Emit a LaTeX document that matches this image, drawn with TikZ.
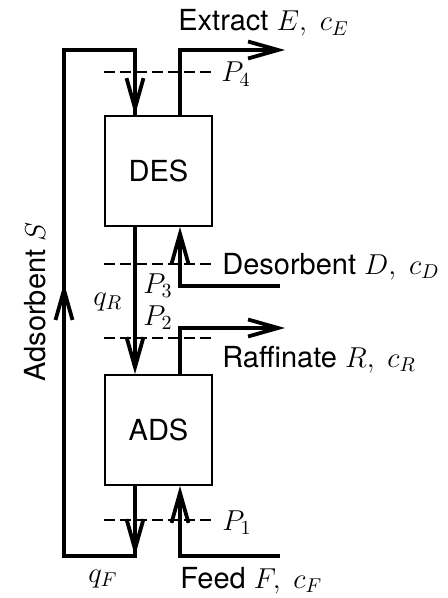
\documentclass[tikz,border=0pt]{standalone}
\usepackage{fontspec}
\setmainfont{TeX Gyre Heros}
\usepackage{tikz}
\usetikzlibrary{arrows.meta,positioning}
\tikzset{
  unitbox/.style={
    draw,
    line width=0.9pt,
    minimum width=53.5pt,
    minimum height=55pt,
    inner sep=0pt,
    font=\fontsize{14.5}{17}\selectfont
  },
  flowline/.style={
    line width=1.9pt
  },
  flowarrow/.style={
    flowline,
    -{Straight Barb[length=15pt,width=8.5pt]}
  },
  cutline/.style={
    line width=0.9pt,
    dash pattern=on 5.5pt off 2.5pt
  },
  streamlabel/.style={
    font=\fontsize{14.5}{17}\selectfont,
    inner sep=0pt,
    anchor=base west
  }
}

\begin{document}
\begin{tikzpicture}[x=0.5pt,y=-0.5pt]
  \useasboundingbox (0,0) rectangle (447,598);
  % the two sections
  \node[unitbox] (des) at (158.5,171) {DES};
  \node[unitbox] (ads) at (158.5,430) {ADS};
  \coordinate (colL) at (135,0);
  \coordinate (colR) at (180,0);
  \coordinate (topL) at (64,50);
  \coordinate (botL) at (64,556);
  \coordinate (midL) at (64,283);
  \coordinate (ext) at (285,50);
  \coordinate (desin) at (280,286);
  \coordinate (raf) at (285,328);
  \coordinate (feed) at (280,556);

  % adsorbent loop
  \draw[flowline] (ads.south -| colL) -- (botL -| colL) -- (botL) -- (topL) -- (topL -| colL) -- (des.north -| colL);
  \draw[flowarrow] (ads.south -| colL) -- (botL -| colL);
  \draw[flowarrow] (botL) -- (midL);
  \draw[flowarrow] (topL -| colL) -- (des.north -| colL);
  \draw[flowarrow] (des.south -| colL) -- (ads.north -| colL);

  % streams in and out
  \draw[flowarrow] (des.north -| colR) -- (colR |- ext) -- (ext);
  \draw[flowarrow] (desin) -- (desin -| colR) -- (des.south -| colR);
  \draw[flowarrow] (ads.north -| colR) -- (colR |- raf) -- (raf);
  \draw[flowarrow] (feed) -- (feed -| colR) -- (ads.south -| colR);

  % planes
  \foreach \y in {72,264,338,520}
    \draw[cutline] (104,\y) -- (212,\y);

  \node[streamlabel] (extl) at (178,31) {Extract $E,\ c_E$};
  \node[streamlabel] (p4) at (221,82) {$P_4$};
  \node[streamlabel] (desl) at (222,274) {Desorbent $D,\ c_D$};
  \node[streamlabel] (p3) at (143,293) {$P_3$};
  \node[streamlabel] (qr) at (93,305) {$q_R$};
  \node[streamlabel] (p2) at (143,325) {$P_2$};
  \node[streamlabel] (rafl) at (222,367) {Raffinate $R,\ c_R$};
  \node[streamlabel] (p1) at (222,530) {$P_1$};
  \node[streamlabel] (qf) at (88,582) {$q_F$};
  \node[streamlabel] (feedl) at (180,588) {Feed $F,\ c_F$};
  \node[streamlabel, anchor=base, rotate=90] (adsl) at (45,302) {Adsorbent $S$};
\end{tikzpicture}
\end{document}
